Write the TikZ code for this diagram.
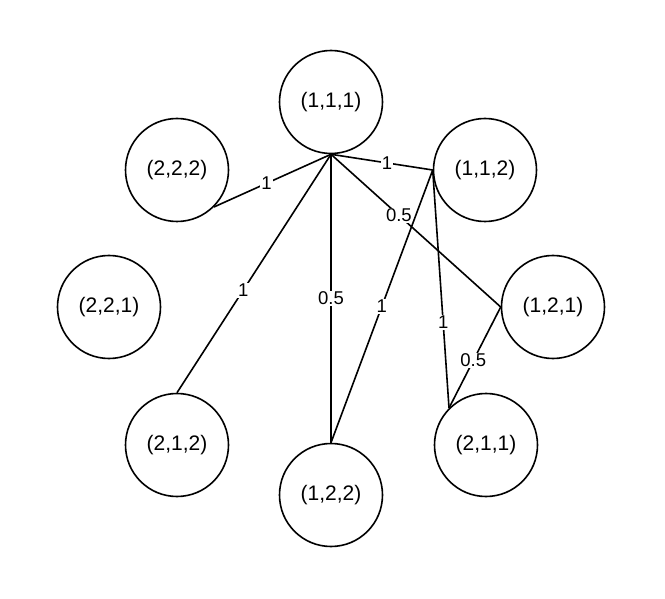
\documentclass[tikz,border=0pt]{standalone}
\usepackage{fontspec}
\setmainfont{Liberation Sans}
\begin{document}
\begin{tikzpicture}[x=1pt,y=-1pt,
  state/.style={draw, circle, line width=1.6pt, minimum size=103pt, inner sep=0pt, font=\fontsize{21}{24}\selectfont},
  edge/.style={line width=1.6pt},
  lbl/.style={fill=white, inner sep=1pt, font=\fontsize{18.5}{20}\selectfont}]
\useasboundingbox (0,0) rectangle (665,599);
\node[state] (n111) at (331,102) {(1,1,1)};
\node[state] (n222) at (177,170) {(2,2,2)};
\node[state] (n112) at (485,170) {(1,1,2)};
\node[state] (n221) at (109,307) {(2,2,1)};
\node[state] (n121) at (553,307) {(1,2,1)};
\node[state] (n212) at (177,445) {(2,1,2)};
\node[state] (n211) at (486,445) {(2,1,1)};
\node[state] (n122) at (331,495) {(1,2,2)};
\draw[edge] (n111.south) -- node[lbl, pos=0.55] {1} (n222.south east);
\draw[edge] (n111.south) -- node[lbl, pos=0.57] {1} (n212.north);
\draw[edge] (n111.south) -- node[lbl, pos=0.5] {0.5} (n122.north);
\draw[edge] (n111.south) -- node[lbl, pos=0.55] {1} (n112.west);
\draw[edge] (n111.south) -- node[lbl, pos=0.4] {0.5} (n121.west);
\draw[edge] (n112.west) -- node[lbl, pos=0.5] {1} (n122.north);
\draw[edge] (n112.west) -- node[lbl, pos=0.64] {1} (n211.north west);
\draw[edge] (n121.west) -- node[lbl, pos=0.53] {0.5} (n211.north west);
\end{tikzpicture}
\end{document}
